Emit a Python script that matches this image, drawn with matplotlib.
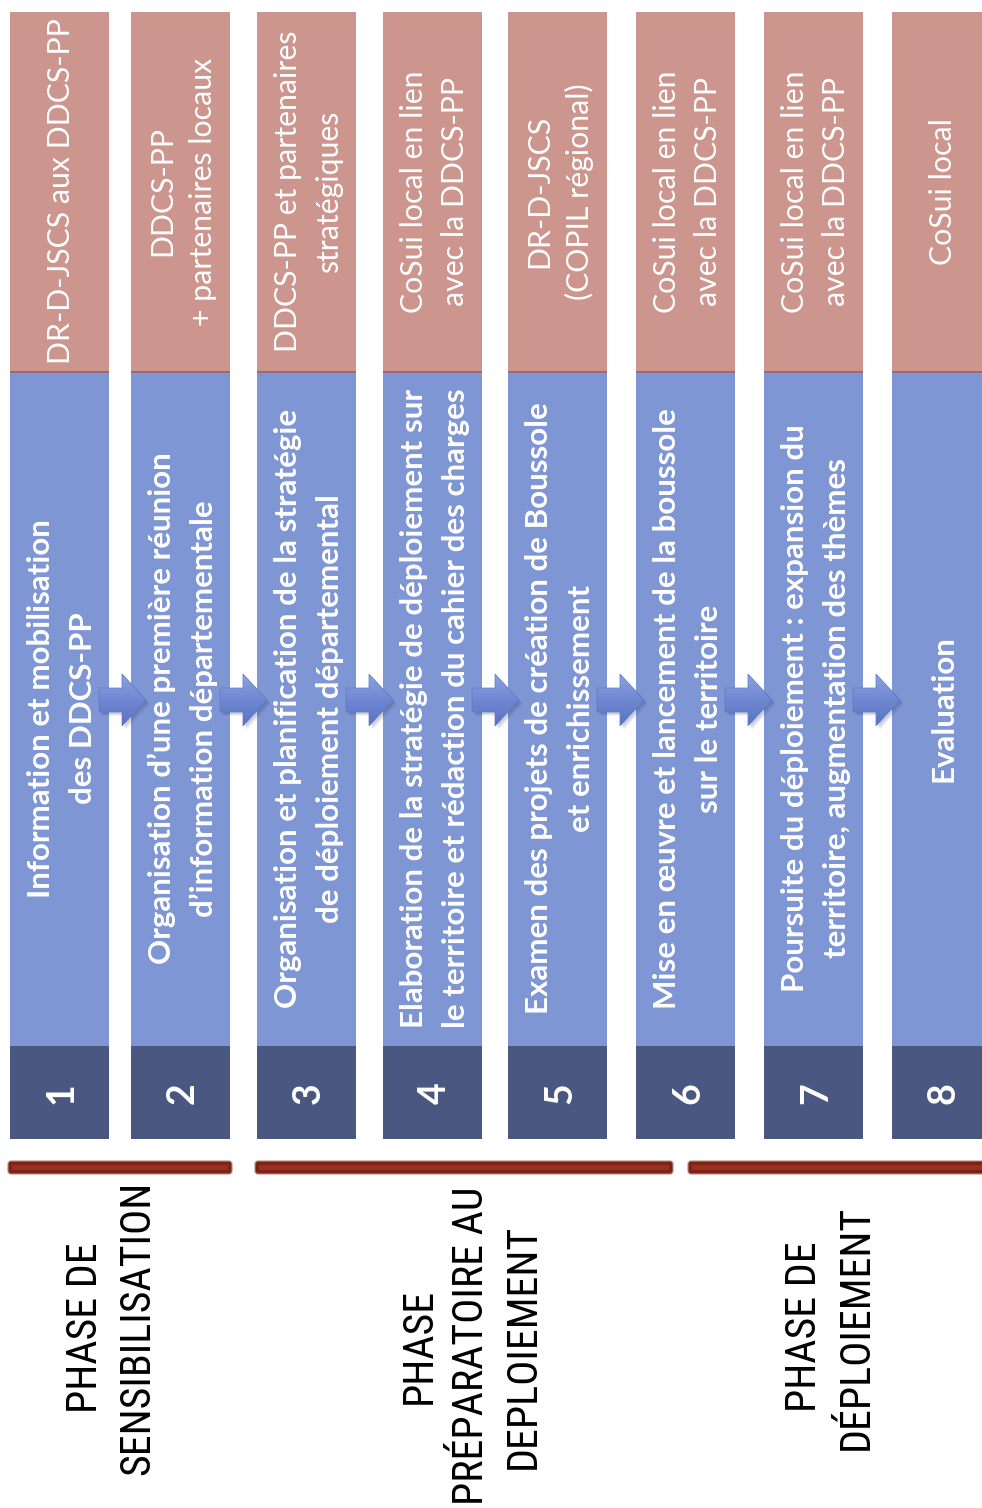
import numpy as np
import matplotlib
matplotlib.use("Agg")
import matplotlib.pyplot as plt
from matplotlib import font_manager as fm
from matplotlib.patches import Rectangle, Polygon, FancyBboxPatch
from matplotlib.colors import LinearSegmentedColormap

# ---------------- data ----------------
step_numbers = ["1", "2", "3", "4", "5", "6", "7", "8"]
step_titles = [
    ["Information et mobilisation", "des DDCS-PP"],
    ["Organisation d\u2019une première réunion", "d\u2019information départementale"],
    ["Organisation et planification de la stratégie", "de déploiement départemental"],
    ["Elaboration de la stratégie de déploiement sur", "le territoire et rédaction du cahier des charges"],
    ["Examen des projets de création de Boussole", "et enrichissement"],
    ["Mise en œuvre et lancement de la boussole", "sur le territoire"],
    ["Poursuite du déploiement : expansion du", "territoire, augmentation des thèmes"],
    ["Evaluation"],
]
step_actors = [
    ["DR-D-JSCS aux DDCS-PP"],
    ["DDCS-PP", "+ partenaires locaux"],
    ["DDCS-PP et partenaires", "stratégiques", "départementaux"],
    ["CoSui local en lien", "avec la DDCS-PP"],
    ["DR-D-JSCS", "(COPIL régional)"],
    ["CoSui local en lien", "avec la DDCS-PP"],
    ["CoSui local en lien", "avec la DDCS-PP"],
    ["CoSui local"],
]
phase_labels = [
    ["PHASE DE", "SENSIBILISATION"],
    ["PHASE", "PRÉPARATOIRE AU", "DEPLOIEMENT"],
    ["PHASE DE", "DÉPLOIEMENT"],
]

# ---------------- layout (pixels) ----------------
W, H = 982, 1508
col_left = [10, 131, 257, 383, 508, 636, 764, 892]
col_w = 99
top, sep, dark_top, bottom = 12, 371, 1046, 1139
actor_lines_centered = [1, 2, 2, 2, 2, 2, 2, 1]   # lines used to centre the block
arrow_y = 700
phase_bars = [(8, 232), (255, 673), (688, 995)]
bar_y0, bar_y1 = 1161, 1174
phase_text_pos = [(108, 1328), (468, 1346), (827, 1327)]
phase_text_len = [287, 317, 251]   # length of longest line, px

PINK = "#CC968E"
SEP = "#9A6A77"
BLUE = "#7F96D4"
DARK = "#4A5780"
BAR_OUT = "#7A2316"
BAR_IN = "#9C2E1F"

fig = plt.figure(figsize=(W / 100, H / 100), dpi=100)
ax = fig.add_axes([0, 0, 1, 1])
ax.set_xlim(0, W)
ax.set_ylim(H, 0)
ax.axis("off")
renderer = fig.canvas.get_renderer()

PX = 100 / 72.0  # px per pt
STEP_FONT = ["Lato", "DejaVu Sans"]


def font_exists(name, stretch="normal"):
    try:
        path = fm.findfont(fm.FontProperties(family=name, stretch=stretch),
                           fallback_to_default=False)
    except Exception:
        return None
    return path


# choose a narrow font for the phase labels if one is installed
PHASE_FONT = ["Liberation Sans", "DejaVu Sans"]
PHASE_STRETCH = "normal"
for cand in ["Liberation Sans Narrow", "Roboto Condensed", "Open Sans Condensed"]:
    p = font_exists(cand)
    if p and ("narrow" in p.lower() or "condensed" in p.lower()):
        PHASE_FONT = [cand, "DejaVu Sans"]
        break
else:
    p = font_exists("DejaVu Sans", "condensed")
    if p and "condensed" in p.lower():
        PHASE_FONT = ["DejaVu Sans", "Liberation Sans"]
        PHASE_STRETCH = "condensed"


def text_len(s, size, family, weight="normal", stretch="normal"):
    t = ax.text(0, 0, s, fontsize=size, family=family, fontweight=weight, fontstretch=stretch)
    w = t.get_window_extent(renderer).width
    t.remove()
    return w


def vtext(cx, cy, lines, size, weight, color, spacing, family, n_center=None,
          clip=None, cap_ratio=0.72, stretch="normal", z=5):
    n = len(lines)
    nc = n if n_center is None else n_center
    cap = cap_ratio * size * PX
    for k, line in enumerate(lines):
        xc = cx + (k - (nc - 1) / 2.0) * spacing
        t = ax.text(xc + cap / 2.0, cy, line, rotation=90, rotation_mode="anchor",
                    ha="center", va="baseline", fontsize=size, fontweight=weight,
                    color=color, family=family, fontstretch=stretch, zorder=z)
        if clip is not None:
            t.set_clip_path(clip)


# columns (each column drawn above the previous one, so overflowing text is hidden)
for i in range(len(step_numbers)):
    x0 = col_left[i]
    cx = x0 + col_w / 2.0
    zb = 1 + i
    pink = Rectangle((x0, top), col_w, sep - top, facecolor=PINK, edgecolor="none", zorder=zb)
    ax.add_patch(pink)
    ax.add_patch(Rectangle((x0, sep), col_w, 2, facecolor=SEP, edgecolor="none", zorder=zb + 0.1))
    ax.add_patch(Rectangle((x0, sep + 2), col_w, dark_top - sep - 2, facecolor=BLUE,
                           edgecolor="none", zorder=zb))
    ax.add_patch(Rectangle((x0, dark_top), col_w, bottom - dark_top, facecolor=DARK,
                           edgecolor="none", zorder=zb))
    vtext(cx, (top + sep) / 2.0, step_actors[i], 21.8, "normal", "white", 41, STEP_FONT,
          n_center=actor_lines_centered[i], clip=pink, z=zb + 0.5)
    vtext(cx, (sep + dark_top) / 2.0, step_titles[i], 22.5, "bold", "white", 42, STEP_FONT,
          z=zb + 0.5)
    vtext(cx, (dark_top + bottom) / 2.0 + 1, [step_numbers[i]], 27, "bold", "white", 0,
          STEP_FONT, z=zb + 0.5)

# arrows between steps
grad = np.linspace(0, 1, 64).reshape(-1, 1)
acmap = LinearSegmentedColormap.from_list("arr", ["#8AA3E2", "#7088D2", "#5A72C2"])
for i in range(len(step_numbers) - 1):
    tail = col_left[i] + col_w - 10
    hb = tail + 23
    tip = tail + 47
    pts = [(tail, arrow_y - 12), (hb, arrow_y - 12), (hb, arrow_y - 26), (tip, arrow_y),
           (hb, arrow_y + 26), (hb, arrow_y + 12), (tail, arrow_y + 12)]
    for off, a in [(4, 0.06), (3, 0.08), (2, 0.1)]:
        ax.add_patch(Polygon([(x + off, y + off) for x, y in pts], closed=True,
                             facecolor="#1E2850", edgecolor="none", alpha=a, zorder=20))
    poly = Polygon(pts, closed=True, facecolor="none", edgecolor="#6079C4", lw=0.5, zorder=22)
    ax.add_patch(poly)
    im = ax.imshow(grad, cmap=acmap, extent=(tail, tip, arrow_y + 26, arrow_y - 26),
                   aspect="auto", zorder=21, interpolation="bilinear")
    im.set_clip_path(poly)

ax.set_xlim(0, W)
ax.set_ylim(H, 0)

# phase bars
for (x0, x1) in phase_bars:
    ax.add_patch(FancyBboxPatch((x0, bar_y0), x1 - x0, bar_y1 - bar_y0,
                                boxstyle="round,pad=0,rounding_size=3",
                                facecolor=BAR_OUT, edgecolor="#B98A80", lw=0.8, zorder=30))
    ax.add_patch(Rectangle((x0 + 4, bar_y0 + 4), x1 - x0 - 8, 5, facecolor=BAR_IN,
                           edgecolor="none", zorder=31))

# phase labels: size fitted so that the longest lines match the reference lengths
sizes = []
for lines, target in zip(phase_labels, phase_text_len):
    longest = max(lines, key=lambda s: text_len(s, 20, PHASE_FONT, stretch=PHASE_STRETCH))
    sizes.append(20 * target / text_len(longest, 20, PHASE_FONT, stretch=PHASE_STRETCH))
phase_size = float(np.mean(sizes))
for (px, py), lines in zip(phase_text_pos, phase_labels):
    vtext(px, py, lines, phase_size, "normal", "black", 52, PHASE_FONT,
          stretch=PHASE_STRETCH, z=32)

fig.savefig("out.png", dpi=100)
